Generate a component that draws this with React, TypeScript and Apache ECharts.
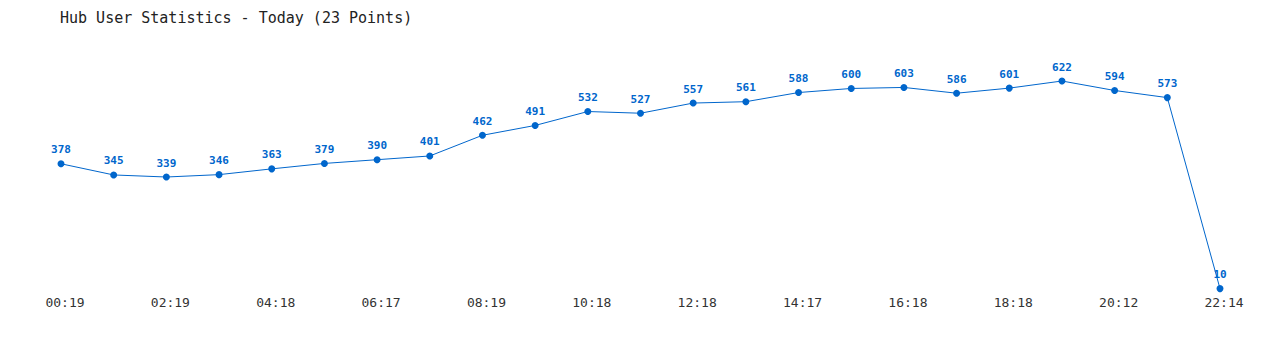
import React, { useEffect, useRef } from "react";
import * as echarts from "echarts";

const times = [
  "00:19", "01:19", "02:19", "03:19", "04:18", "05:18", "06:17", "07:18", "08:19", "09:18",
  "10:18", "11:18", "12:18", "13:18", "14:17", "15:18", "16:18", "17:18", "18:18", "19:18",
  "20:12", "21:13", "22:14",
];
const users = [378, 345, 339, 346, 363, 379, 390, 401, 462, 491, 532, 527, 557, 561, 588, 600, 603, 586, 601, 622, 594, 573, 10];
const titleText = "Hub User Statistics - Today (23 Points)";

const FONT = "'DejaVu Sans Mono', 'Liberation Mono', monospace";

export default function App() {
  const ref = useRef<HTMLDivElement>(null);
  useEffect(() => {
    if (!ref.current) return;
    const chart = echarts.init(ref.current, undefined, { renderer: "svg" });
    chart.setOption({
      animation: false,
      backgroundColor: "#ffffff",
      title: {
        text: titleText,
        left: 52,
        top: 2,
        padding: 0,
        textStyle: { fontFamily: FONT, fontSize: 15, fontWeight: "normal", color: "#222" },
      },
      grid: { left: 53, right: 52, top: 73, bottom: 50 },
      xAxis: {
        type: "category",
        data: times,
        boundaryGap: false,
        axisLine: { show: false },
        axisTick: { show: false },
        splitLine: { show: false },
        axisLabel: {
          interval: 1,
          margin: 4,
          padding: [0, 0, 0, 8],
          fontFamily: FONT,
          fontSize: 13,
          color: "#333",
        },
      },
      yAxis: {
        type: "value",
        min: 0,
        max: 622,
        show: false,
      },
      series: [
        {
          type: "line",
          data: users,
          symbol: "circle",
          symbolSize: 7,
          lineStyle: { color: "#0066cc", width: 1 },
          itemStyle: { color: "#0066cc" },
          label: {
            show: true,
            position: "top",
            distance: 5,
            fontFamily: FONT,
            fontSize: 11,
            fontWeight: "bold",
            color: "#0066cc",
          },
        },
      ],
    });
    return () => chart.dispose();
  }, []);
  return <div ref={ref} style={{ width: 1264, height: 334 }} />;
}
